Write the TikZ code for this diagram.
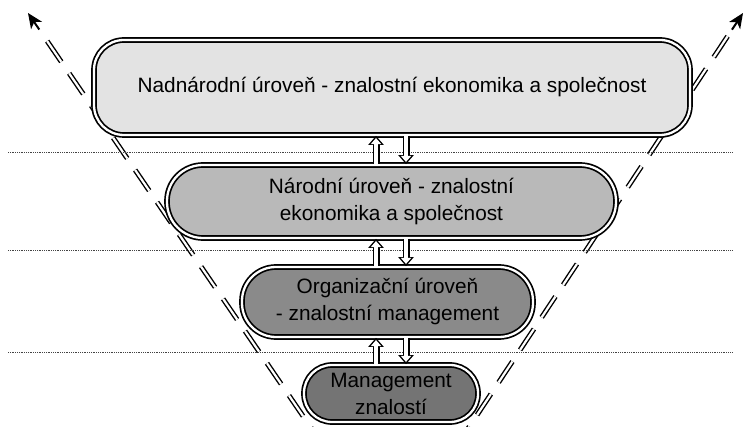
\documentclass[tikz,border=0pt]{standalone}
\usepackage{fontspec}
\setmainfont{Liberation Sans}
\usetikzlibrary{arrows.meta, positioning, calc}
\definecolor{levelA}{HTML}{E3E3E3}
\definecolor{levelB}{HTML}{B9B9B9}
\definecolor{levelC}{HTML}{8A8A8A}
\definecolor{levelD}{HTML}{747474}
\definecolor{sepgray}{HTML}{444444}

\begin{document}
\begin{tikzpicture}[x=1pt, y=-1pt,
  level/.style={draw, line width=1.7pt, double=white, double distance=2.3pt,
    align=center, inner sep=0pt, font=\fontsize{20.8}{27}\selectfont},
  flowout/.style={black, line width=7pt, -{Triangle[length=9pt, width=15pt]}},
  flowin/.style={white, line width=4.2pt, shorten >=2.2pt,
    -{Triangle[length=6pt, width=10pt]}},
  sep/.style={sepgray, densely dotted, line width=0.8pt},
  axis/.style={line width=1.4pt, double=white, double distance=2.2pt,
    dash pattern=on 25pt off 14pt}]
  \useasboundingbox (0,0) rectangle (744,427);

  % widening levels
  \coordinate (apex) at (391,545);
  \coordinate (tipL) at (28,13);
  \coordinate (tipR) at (743,13);
  \draw[axis, shorten >=21pt] (apex) -- (tipL);
  \draw[axis, shorten >=21pt] (apex) -- (tipR);
  \draw[line width=2pt, -{Stealth[length=15pt, width=13pt, inset=4pt]}] ($(tipL)!20pt!(apex)$) -- (tipL);
  \draw[line width=2pt, -{Stealth[length=15pt, width=13pt, inset=4pt]}] ($(tipR)!20pt!(apex)$) -- (tipR);

  % separators
  \foreach \y in {152, 250, 352}
    \draw[sep] (8,\y) -- (733,\y);

  % levels
  \node[level, fill=levelA, minimum width=596pt, minimum height=95pt,
    rounded corners=30pt] (nadnar) at (392,87.5)
    {Nadnárodní úroveň - znalostní ekonomika a společnost};
  \node[level, fill=levelB, minimum width=449pt, minimum height=73pt,
    rounded corners=36pt] (narod) at (391.5,201.5)
    {Národní úroveň - znalostní\\ekonomika a společnost};
  \node[level, fill=levelC, minimum width=291pt, minimum height=70pt,
    rounded corners=34pt] (organ) at (387.5,302)
    {Organizační úroveň\\- znalostní management};
  \node[level, fill=levelD, minimum width=174pt, minimum height=57pt,
    rounded corners=28pt] (mgmt) at (391,393.5)
    {Management\\znalostí};

  % exchange between levels
  \foreach \lo/\hi in {narod/nadnar, organ/narod, mgmt/organ} {
    \draw[flowout] (\lo.north -| 376,0) -- (\hi.south -| 376,0);
    \draw[flowin]  (\lo.north -| 376,0) -- (\hi.south -| 376,0);
    \draw[flowout] (\hi.south -| 406,0) -- (\lo.north -| 406,0);
    \draw[flowin]  (\hi.south -| 406,0) -- (\lo.north -| 406,0);
  }
\end{tikzpicture}
\end{document}
